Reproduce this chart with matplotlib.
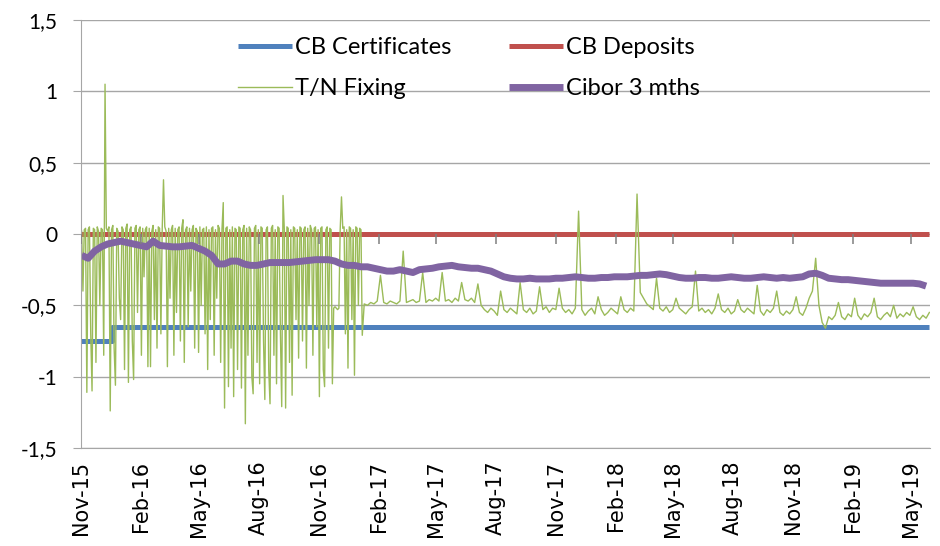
import pandas as pd
import matplotlib
matplotlib.use('Agg')
import matplotlib.pyplot as plt
import matplotlib.dates as mdates
from matplotlib.markers import TICKDOWN
from matplotlib.ticker import FuncFormatter, MultipleLocator

# Policy rates (step changes)
policy_dates = ['2015-11-20', '2016-01-07', '2019-06-18']
cb_certificates = [-0.75, -0.65, -0.65]
cb_deposits = [0.0, 0.0, 0.0]

# T/N fixing, volatile period: every 2nd day from 2015-11-21
tn_volatile = [
    0.02, -0.40, 0.03, 0.04, -1.11, 0.03, 0.05, -0.70, -1.10, 0.04,
    0.03, -0.90, 0.05, 0.02, -0.50, 0.04, 0.03, -0.85, 1.05, 0.04,
    0.02, 0.05, -1.24, 0.03, 0.06, -0.80, -1.06, 0.04, 0.02, -0.45,
    -0.60, 0.05, 0.03, -0.95, 0.04, 0.07, -1.04, 0.03, 0.05, -0.75,
    -1.02, 0.04, 0.06, -0.55, 0.03, 0.05, -0.85, 0.04, -0.30, 0.03,
    0.05, -0.93, 0.04, -0.93, 0.02, 0.06, -0.60, 0.03, -0.80, 0.05,
    0.04, -0.70, 0.03, 0.38, 0.05, 0.02, -0.93, 0.04, -0.45, 0.03,
    0.06, -0.85, 0.04, -0.55, 0.03, 0.05, -0.75, 0.04, 0.10, -0.90,
    0.03, 0.05, -0.65, 0.04, -0.40, 0.03, 0.06, -0.80, 0.04, 0.02,
    -0.83, 0.05, -0.50, 0.03, 0.04, -0.70, 0.05, -0.95, 0.03, -0.60,
    0.04, 0.05, -0.85, 0.03, -0.45, 0.06, 0.04, -0.90, 0.03, 0.22,
    -1.22, 0.04, 0.05, -1.07, 0.03, -0.80, 0.05, -1.14, 0.04, 0.03,
    -0.95, 0.05, 0.04, -1.08, 0.03, 0.06, -1.33, 0.04, -0.85, 0.05,
    0.03, -1.00, -1.12, 0.04, 0.06, -0.90, 0.03, -1.05, 0.05, 0.04,
    -0.75, -1.16, 0.03, 0.05, -0.95, -1.19, 0.04, 0.06, -0.85, 0.03,
    -1.05, 0.05, 0.04, -0.70, -1.21, 0.27, 0.03, -1.22, 0.05, 0.04,
    -0.90, 0.03, -1.13, 0.05, 0.04, -0.60, 0.03, -0.87, 0.05, 0.04,
    -0.75, 0.03, 0.05, -0.94, 0.04, -0.50, 0.06, 0.03, -0.85, 0.04,
    0.05, -0.65, 0.03, -1.14, 0.04, 0.05, -0.95, -1.07, 0.03, 0.05,
    -0.80, 0.04, 0.03, -1.05, -0.52, -0.51, -0.52, -0.53, -0.52, 0.03,
    0.26, 0.04, 0.05, -0.70, 0.03, -0.94, 0.05, 0.04, -0.60, 0.03,
    -0.99, 0.05, 0.04, -0.50, 0.04, 0.03, -0.71,
]

# T/N fixing, calm period: every 5th day from 2017-01-29
tn_calm = [
    -0.49, -0.50, -0.48, -0.49, -0.47, -0.29, -0.48, -0.49, -0.47, -0.48,
    -0.49, -0.47, -0.12, -0.48, -0.47, -0.46, -0.48, -0.47, -0.27, -0.48,
    -0.46, -0.47, -0.45, -0.47, -0.27, -0.47, -0.46, -0.48, -0.45, -0.47,
    -0.34, -0.46, -0.47, -0.45, -0.48, -0.35, -0.50, -0.53, -0.55, -0.52,
    -0.54, -0.57, -0.40, -0.53, -0.55, -0.52, -0.54, -0.56, -0.34, -0.53,
    -0.55, -0.52, -0.56, -0.54, -0.37, -0.53, -0.51, -0.55, -0.52, -0.53,
    -0.38, -0.52, -0.55, -0.53, -0.56, -0.52, 0.16, -0.53, -0.57, -0.54,
    -0.52, -0.56, -0.44, -0.53, -0.57, -0.55, -0.52, -0.54, -0.56, -0.44,
    -0.53, -0.55, -0.52, -0.54, 0.28, -0.41, -0.45, -0.49, -0.51, -0.53,
    -0.31, -0.52, -0.54, -0.51, -0.55, -0.53, -0.45, -0.52, -0.54, -0.56,
    -0.53, -0.51, -0.26, -0.54, -0.52, -0.55, -0.53, -0.56, -0.52, -0.42,
    -0.53, -0.55, -0.52, -0.56, -0.54, -0.46, -0.53, -0.55, -0.52, -0.54,
    -0.56, -0.36, -0.54, -0.57, -0.53, -0.55, -0.52, -0.40, -0.55, -0.57,
    -0.54, -0.56, -0.53, -0.44, -0.55, -0.57, -0.52, -0.45, -0.40, -0.17,
    -0.50, -0.62, -0.66, -0.58, -0.60, -0.57, -0.48, -0.58, -0.60, -0.56,
    -0.58, -0.45, -0.57, -0.60, -0.56, -0.58, -0.55, -0.45, -0.58, -0.60,
    -0.57, -0.55, -0.58, -0.50, -0.59, -0.56, -0.58, -0.55, -0.57, -0.51,
    -0.58, -0.60, -0.57, -0.59, -0.55,
]

# Cibor 3 months: every 10th day from 2015-11-21
cibor_3m = [
    -0.15, -0.17, -0.12, -0.09, -0.07, -0.06, -0.05, -0.06, -0.07, -0.08,
    -0.09, -0.05, -0.08, -0.085, -0.09, -0.09, -0.085, -0.08, -0.10, -0.12,
    -0.15, -0.21, -0.21, -0.19, -0.19, -0.21, -0.22, -0.22, -0.21, -0.20,
    -0.20, -0.20, -0.20, -0.195, -0.19, -0.185, -0.18, -0.18, -0.18, -0.19,
    -0.21, -0.22, -0.22, -0.23, -0.23, -0.24, -0.25, -0.26, -0.26, -0.25,
    -0.26, -0.27, -0.25, -0.245, -0.24, -0.23, -0.225, -0.22, -0.23, -0.235,
    -0.24, -0.24, -0.25, -0.26, -0.28, -0.30, -0.31, -0.315, -0.315, -0.31,
    -0.315, -0.315, -0.315, -0.31, -0.31, -0.305, -0.30, -0.305, -0.31, -0.31,
    -0.305, -0.305, -0.30, -0.30, -0.30, -0.295, -0.29, -0.29, -0.285, -0.28,
    -0.285, -0.295, -0.305, -0.31, -0.31, -0.305, -0.305, -0.31, -0.31, -0.305,
    -0.30, -0.305, -0.31, -0.31, -0.305, -0.30, -0.305, -0.31, -0.305, -0.31,
    -0.305, -0.30, -0.28, -0.275, -0.29, -0.31, -0.315, -0.32, -0.32, -0.325,
    -0.33, -0.335, -0.34, -0.345, -0.345, -0.345, -0.345, -0.345, -0.345, -0.35,
    -0.365,
]

tn_dates = (pd.date_range('2015-11-21', periods=len(tn_volatile), freq='2D')
            .append(pd.date_range('2017-01-29', periods=len(tn_calm), freq='5D')))
tn_fixing = tn_volatile + tn_calm
cibor_dates = pd.date_range('2015-11-21', periods=len(cibor_3m), freq='10D')
policy_dates = pd.to_datetime(policy_dates)

plt.rcParams['font.family'] = ['Lato', 'DejaVu Sans']

fig = plt.figure(figsize=(9.4, 5.46), dpi=100)
ax = fig.add_axes([81 / 940, 1 - 448 / 546, (930 - 81) / 940, 428 / 546])

grid_col = '#A6A6A6'
l_cert, = ax.step(policy_dates, cb_certificates, where='post', color='#4F81BD', lw=3.6,
                  label='CB Certificates', solid_capstyle='butt')
l_dep, = ax.step(policy_dates, cb_deposits, where='post', color='#C0504D', lw=3.6,
                 label='CB Deposits', solid_capstyle='butt')
l_tn, = ax.plot(tn_dates, tn_fixing, color='#9BBB59', lw=1.0, label='T/N Fixing')
l_cib, = ax.plot(cibor_dates, cibor_3m, color='#8064A2', lw=5.0, label='Cibor 3 mths',
                 solid_capstyle='butt')

x_start, x_end = pd.Timestamp('2015-11-20'), pd.Timestamp('2019-06-19')
ax.set_ylim(-1.5, 1.5)
ax.set_xlim(x_start, x_end)
ax.yaxis.set_major_locator(MultipleLocator(0.5))
ax.yaxis.set_major_formatter(FuncFormatter(lambda v, _: ('%g' % v).replace('.', ',')))
ax.grid(axis='y', color=grid_col, lw=1.0)
ax.set_axisbelow(True)

# date axis: labels along the bottom
tick_loc = mdates.MonthLocator(bymonth=[2, 5, 8, 11], bymonthday=20)
ax.xaxis.set_major_locator(tick_loc)
ax.xaxis.set_major_formatter(mdates.DateFormatter('%b-%y'))
ax.tick_params(axis='x', length=0, pad=9, labelrotation=90, labelsize=15)
for lbl in ax.get_xticklabels():
    lbl.set_fontfamily('DejaVu Sans')
ax.tick_params(axis='y', length=6, color=grid_col, pad=11, labelsize=15)

for side in ['top', 'right']:
    ax.spines[side].set_visible(False)
for side in ['left', 'bottom']:
    ax.spines[side].set_color(grid_col)

# the date axis crosses at zero in the original: short tick marks hang below it
tick_dates = mdates.num2date(tick_loc.tick_values(x_start, x_end))
ax.plot(tick_dates, [0] * len(tick_dates), ls='none', marker=TICKDOWN,
        ms=7, mew=1.1, color='#808080', zorder=4)

ax.legend([l_cert, l_tn, l_dep, l_cib],
          ['CB Certificates', 'T/N Fixing', 'CB Deposits', 'Cibor 3 mths'],
          loc='upper left', bbox_to_anchor=(238 / 940, 1 - 37 / 546),
          bbox_transform=fig.transFigure, ncol=2, frameon=False, fontsize=17,
          handlelength=2.3, handletextpad=0.1, columnspacing=2.45,
          labelspacing=0.85, borderpad=0, borderaxespad=0)

fig.savefig('out.png', dpi=100)
